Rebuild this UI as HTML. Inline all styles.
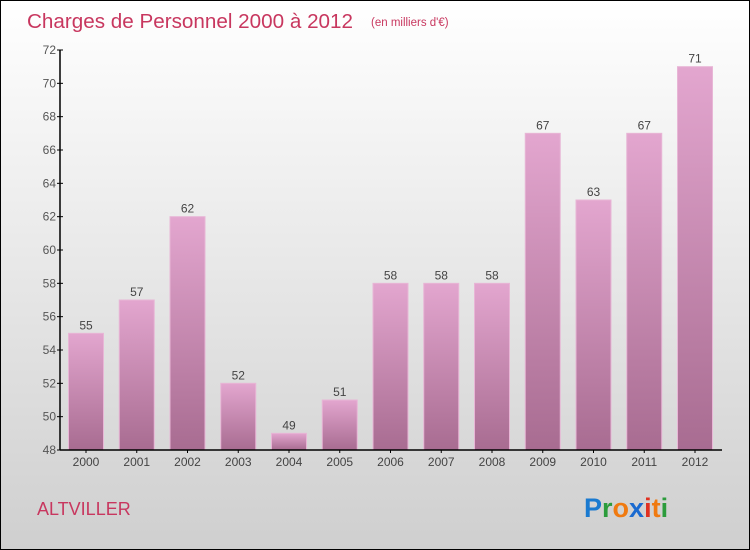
<!DOCTYPE html>
<html><head><meta charset="utf-8">
<style>
body{margin:0;width:750px;height:550px;overflow:hidden}
#root{position:relative;width:748px;height:548px;border:1px solid #000;background:linear-gradient(#ffffff,#cfcfcf);font-family:"Liberation Sans",sans-serif}
</style></head>
<body>
<div id="root">
<svg width="748" height="548" style="position:absolute;left:0;top:0">
<defs>
<linearGradient id="bg" x1="0" y1="0" x2="0" y2="1"><stop offset="0" stop-color="#e3a6cf"/><stop offset="1" stop-color="#a86c91"/></linearGradient>
</defs>
<text x="26" y="27" font-size="20.5" fill="#c8375f" textLength="326" lengthAdjust="spacingAndGlyphs">Charges de Personnel 2000 à 2012</text>
<text x="370" y="25" font-size="11.5" fill="#c8375f">(en milliers d'€)</text>
<g id="plot"></g>
<text x="36" y="514" font-size="18" fill="#c8375f">ALTVILLER</text>
<g font-size="27" font-weight="bold" font-family="Liberation Sans, sans-serif">
<text x="583" y="516"><tspan fill="#1a7ad0">P</tspan><tspan fill="#2c9c3c">r</tspan><tspan fill="#f07a10">o</tspan><tspan fill="#1a6ad0">x</tspan><tspan fill="#e03020">i</tspan><tspan fill="#f07a10">t</tspan><tspan fill="#2c9c3c">i</tspan></text>
</g>
</svg>
</div>
<script>
const years=["2000","2001","2002","2003","2004","2005","2006","2007","2008","2009","2010","2011","2012"];
const values=[55,57,62,52,49,51,58,58,58,67,63,67,71];
const yTicks=[48,50,52,54,56,58,60,62,64,66,68,70,72];
const NS="http://www.w3.org/2000/svg";
const g=document.getElementById("plot");
const x0=59,y0=449,yMin=48,yMax=72,plotTop=49,step=50.75,bw=35;
function yS(v){return y0-(v-yMin)/(yMax-yMin)*(y0-plotTop);}
function xS(i){return 85+i*step;}
function mk(t,a){const e=document.createElementNS(NS,t);for(const k in a)e.setAttribute(k,a[k]);g.appendChild(e);return e;}
values.forEach((v,i)=>{
 const r=mk("rect",{x:xS(i)-bw/2,y:yS(v),width:bw,height:y0-yS(v),fill:"url(#bg)",stroke:"#e8b6d6","stroke-width":1});
 
 
 const t=mk("text",{x:xS(i),y:yS(v)-4,"font-size":12,fill:"#444","text-anchor":"middle"});
 t.textContent=v;
 
 
 const xl=mk("text",{x:xS(i),y:465,"font-size":12,fill:"#444","text-anchor":"middle"});
 xl.textContent=years[i];
 
 
 mk("line",{x1:xS(i),x2:xS(i),y1:y0,y2:y0+3,stroke:"#000"});
});
yTicks.forEach(v=>{
 mk("line",{x1:x0-3,x2:x0+3,y1:yS(v),y2:yS(v),stroke:"#000"});
 const t=mk("text",{x:x0-4,y:yS(v)+4,"font-size":12,fill:"#555","text-anchor":"end"});
 t.textContent=v;
 
 
});
const ya=mk("line",{x1:x0,x2:x0,y1:plotTop,y2:y0,stroke:"#000","stroke-width":1.5});


const xa=mk("line",{x1:x0,x2:721,y1:y0,y2:y0,stroke:"#000","stroke-width":1.5});


</script>
</body></html>
